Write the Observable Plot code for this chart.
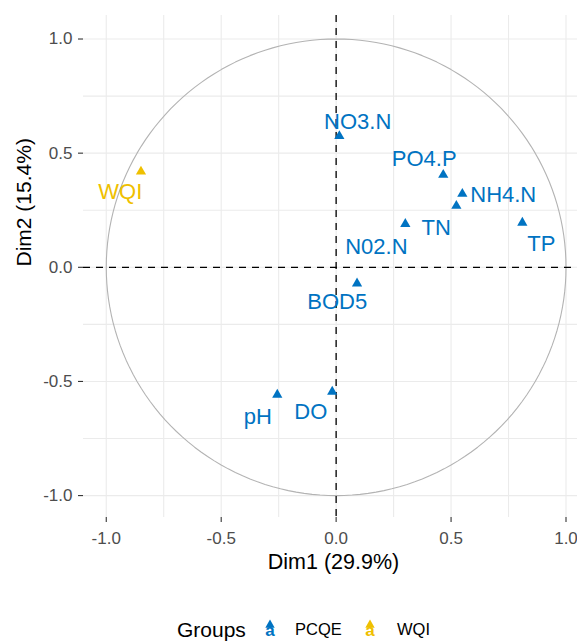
<!DOCTYPE html>
<html>
<head>
<meta charset="utf-8">
<script src="https://cdn.jsdelivr.net/npm/d3@7"></script>
<script src="https://cdn.jsdelivr.net/npm/@observablehq/plot@0.6"></script>
<style>
  html, body { margin: 0; padding: 0; background: #fff; }
  body { font-family: "Liberation Sans", Arial, sans-serif; }
  #wrap { position: relative; width: 577px; height: 641px; overflow: hidden; }
  #legend { position: relative; width: 577px; height: 36px; }
  #legend .it { position: absolute; top: 24px; transform: translateY(-50%); white-space: nowrap; line-height: 1; overflow: visible; }
</style>
</head>
<body>
<div id="wrap">
  <div id="chart"></div>
  <div id="legend"></div>
</div>
<script>
// ---- data ----
const variables = ["NO3.N", "PO4.P", "NH4.N", "TN", "N02.N", "TP", "BOD5", "pH", "DO", "WQI"];
const groups    = ["PCQE", "PCQE", "PCQE", "PCQE", "PCQE", "PCQE", "PCQE", "PCQE", "PCQE", "WQI"];
const dim1      = [0.014, 0.466, 0.549, 0.523, 0.301, 0.810, 0.091, -0.256, -0.017, -0.849];
const dim2      = [0.575, 0.405, 0.322, 0.269, 0.190, 0.195, -0.071, -0.558, -0.545, 0.419];
// repelled label positions (data units)
const labelDim1 = [0.094, 0.383, 0.727, 0.435, 0.175, 0.893, 0.005, -0.341, -0.110, -0.939];
const labelDim2 = [0.637, 0.473, 0.319, 0.171, 0.090, 0.103, -0.153, -0.654, -0.632, 0.328];

const groupNames  = ["PCQE", "WQI"];
const groupColors = ["#0073C2", "#EFC000"];
const majorTicks  = [-1, -0.5, 0, 0.5, 1];
const minorTicks  = [-0.75, -0.25, 0.25, 0.75];
const xTitle = "Dim1 (29.9%)";
const yTitle = "Dim2 (15.4%)";
const legendTitle = "Groups";

// ---- build ----
const rows = variables.map((v, i) => ({
  name: v, group: groups[i], x: dim1[i], y: dim2[i], lx: labelDim1[i], ly: labelDim2[i]
}));
const colorOf = g => groupColors[groupNames.indexOf(g)];
const circle = d3.range(0, 361, 2).map(a => ({x: Math.cos(a * Math.PI / 180), y: Math.sin(a * Math.PI / 180)}));
const gridTicks = majorTicks.concat(minorTicks);
const fmt = d => d.toFixed(1);

const chart = Plot.plot({
  width: 577,
  height: 605,
  marginLeft: 83,
  marginRight: 0,
  marginTop: 15,
  marginBottom: 88,
  style: {fontFamily: "'Liberation Sans', Arial, sans-serif", background: "#fff"},
  x: {domain: [-1.099, 1.05], axis: null},
  y: {domain: [-1.096, 1.103], axis: null},
  marks: [
    Plot.gridX({ticks: gridTicks, stroke: "#EBEBEB", strokeOpacity: 1, strokeWidth: 1.1}),
    Plot.gridY({ticks: gridTicks, stroke: "#EBEBEB", strokeOpacity: 1, strokeWidth: 1.1}),
    Plot.line(circle, {x: "x", y: "y", stroke: "#B3B3B3", strokeWidth: 1.1}),
    Plot.ruleX([0], {stroke: "#000", strokeWidth: 1.3, strokeDasharray: "7,6"}),
    Plot.ruleY([0], {stroke: "#000", strokeWidth: 1.3, strokeDasharray: "7,6"}),
    Plot.dot(rows, {x: "x", y: "y", symbol: "triangle", r: 3.8, fill: d => colorOf(d.group), stroke: "none"}),
    Plot.text(rows, {x: "lx", y: "ly", text: "name", fill: d => colorOf(d.group), fontSize: 22}),
    Plot.axisX({ticks: majorTicks, tickSize: 5, tickPadding: 9, tickFormat: fmt, stroke: "#333", fill: "#4D4D4D", strokeWidth: 1.1, fontSize: 17}),
    Plot.axisY({ticks: majorTicks, tickSize: 5, tickPadding: 6, tickFormat: fmt, stroke: "#333", fill: "#4D4D4D", strokeWidth: 1.1, fontSize: 17}),
    Plot.text([xTitle], {frameAnchor: "bottom", dy: 51, dx: 3, fontSize: 21.5, fill: "#000"}),
    Plot.text([yTitle], {frameAnchor: "left", dx: -59, rotate: -90, fontSize: 21, fill: "#000"})
  ]
});
document.getElementById("chart").appendChild(chart);

// ---- legend ----
const legend = document.getElementById("legend");
function addSpan(txt, left, size) {
  const s = document.createElement("span");
  s.className = "it";
  s.textContent = txt;
  s.style.left = left + "px";
  s.style.fontSize = size + "px";
  legend.appendChild(s);
}
addSpan(legendTitle, 177, 21);
const keyLeft = [262, 362];
const labelLeft = [295, 397];
groupNames.forEach((g, i) => {
  const ns = "http://www.w3.org/2000/svg";
  const svg = document.createElementNS(ns, "svg");
  svg.setAttribute("width", 16);
  svg.setAttribute("height", 24);
  svg.setAttribute("class", "it");
  svg.style.left = keyLeft[i] + "px";
  const t = document.createElementNS(ns, "text");
  t.setAttribute("x", 8); t.setAttribute("y", 19);
  t.setAttribute("text-anchor", "middle");
  t.setAttribute("font-size", 17);
  t.setAttribute("font-weight", "bold");
  t.setAttribute("font-family", "'Liberation Sans', Arial, sans-serif");
  t.setAttribute("fill", groupColors[i]);
  t.textContent = "a";
  svg.appendChild(t);
  const p = document.createElementNS(ns, "path");
  p.setAttribute("transform", "translate(8,8)");
  p.setAttribute("d", d3.symbol(d3.symbolTriangle, 38)());
  p.setAttribute("fill", groupColors[i]);
  svg.appendChild(p);
  legend.appendChild(svg);
  addSpan(g, labelLeft[i], 16.5);
});
</script>
</body>
</html>
